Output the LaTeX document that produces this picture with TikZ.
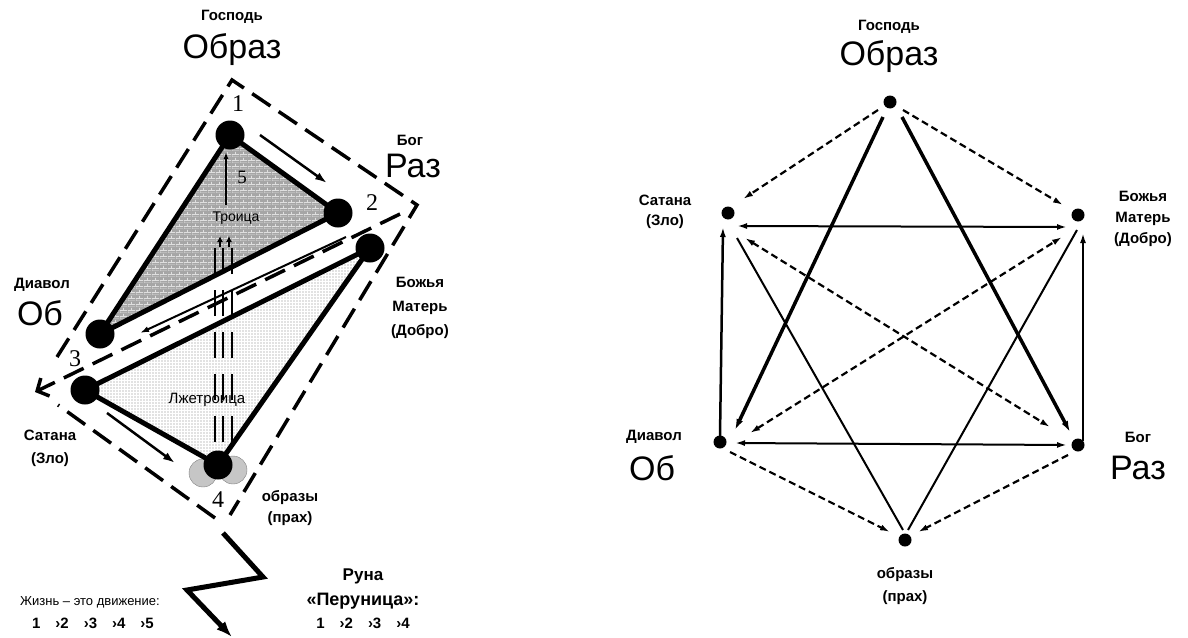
\documentclass[tikz,border=0pt]{standalone}
\usepackage{fontspec}
\setmainfont{Liberation Sans}
\newfontfamily\numfont{Liberation Serif}
\usetikzlibrary{arrows.meta,patterns}

\pgfdeclarepatternformonly{smallbricks}{\pgfpointorigin}{\pgfqpoint{8pt}{6pt}}{\pgfqpoint{8pt}{6pt}}{
  \pgfsetlinewidth{0.8pt}
  \pgfpathmoveto{\pgfqpoint{0pt}{0pt}}\pgfpathlineto{\pgfqpoint{8pt}{0pt}}
  \pgfpathmoveto{\pgfqpoint{0pt}{3pt}}\pgfpathlineto{\pgfqpoint{8pt}{3pt}}
  \pgfpathmoveto{\pgfqpoint{0pt}{0pt}}\pgfpathlineto{\pgfqpoint{0pt}{3pt}}
  \pgfpathmoveto{\pgfqpoint{4pt}{3pt}}\pgfpathlineto{\pgfqpoint{4pt}{6pt}}
  \pgfusepath{stroke}}
\pgfdeclarepatternformonly{finedots}{\pgfqpoint{-1pt}{-1pt}}{\pgfqpoint{1pt}{1pt}}{\pgfqpoint{3pt}{3pt}}{
  \pgfpathcircle{\pgfpointorigin}{0.65pt}
  \pgfusepath{fill}}

\begin{document}
\begin{tikzpicture}[x=1pt, y=-1pt,
    lbl/.style={font=\bfseries\fontsize{15}{21}\selectfont, align=center, inner sep=0pt},
    big/.style={font=\fontsize{34}{36}\selectfont, inner sep=0pt},
    num/.style={font=\numfont\fontsize{24}{26}\selectfont, inner sep=0pt},
    bigdot/.style={circle, fill=black, minimum size=29pt, inner sep=0pt},
    dot/.style={circle, fill=black, minimum size=13pt, inner sep=0pt},
    side/.style={line width=5pt, line join=round},
    outl/.style={line width=3.5pt, dash pattern=on 22pt off 10pt},
    mv/.style={line width=2.5pt, -{Latex[length=12pt,width=8pt]}},
    trip/.style={line width=2pt, dash pattern=on 26pt off 16pt},
    thk/.style={line width=3.5pt, -{Latex[length=11pt,width=7pt]}},
    thn/.style={line width=2pt},
    dsh/.style={line width=2.2pt, dash pattern=on 7pt off 4pt},
    onearr/.style={-{Latex[length=10pt,width=6pt]}},
    twoarr/.style={{Latex[length=10pt,width=6pt]}-{Latex[length=10pt,width=6pt]}},
  ]
  \useasboundingbox (0,0) rectangle (1188,637);

  \coordinate (v1) at (230,135);
  \coordinate (v2) at (338,213);
  \coordinate (v3) at (100,334);
  \coordinate (vm) at (370,248);
  \coordinate (vs) at (85,390);
  \coordinate (v4) at (218,465);

  \fill[gray!70] (v1) -- (v2) -- (v3) -- cycle;
  \fill[pattern=smallbricks, pattern color=white!75!gray] (v1) -- (v2) -- (v3) -- cycle;
  \fill[pattern=finedots, pattern color=gray] (vm) -- (vs) -- (v4) -- cycle;

  \node[font=\fontsize{14}{16}\selectfont, inner sep=0pt] (tr) at (236,218) {Троица};
  \node[font=\fontsize{15}{17}\selectfont, inner sep=0pt] (ltr) at (207,400) {Лжетроица};

  \draw[trip] (215,442) -- (215,248);
  \draw[trip] (223,442) -- (223,248);
  \draw[trip] (232,442) -- (232,248);
  \draw[line width=1.5pt, -{Latex[length=6pt,width=6pt]}] (220,247) -- (220,236);
  \draw[line width=1.5pt, -{Latex[length=6pt,width=6pt]}] (229,247) -- (229,236);
  \draw[line width=1.5pt, -{Latex[length=7pt,width=5pt]}] (226,205) -- (226,152);

  \fill[gray!45, draw=gray] (203,473) circle[radius=14pt];
  \fill[gray!45, draw=gray] (233,470) circle[radius=14pt];

  \draw[side] (v1) -- (v2) -- (v3) -- cycle;
  \draw[side] (vm) -- (vs) -- (v4) -- cycle;

  \node[bigdot] (d1) at (v1) {};
  \node[bigdot] (d2) at (v2) {};
  \node[bigdot] (d3) at (v3) {};
  \node[bigdot] (dm) at (vm) {};
  \node[bigdot] (ds) at (vs) {};
  \node[bigdot] (d4) at (v4) {};

  \draw[mv] ([shift={(30,0)}]d1.center) -- ([shift={(-11,-30)}]d2.center);
  \draw[line width=2pt, -{Latex[length=9pt,width=6pt]}] ([shift={(8,24)}]d2.center) -- ([shift={(40,-1)}]d3.center);
  \draw[mv] ([shift={(22,23)}]ds.center) -- ([shift={(-43,-2)}]d4.center);

  \draw[outl] (57,357) -- (232,80) -- (417,205) -- (230,515);
  \draw[outl] (215,518) -- (58,405);
  \draw[outl, -{Straight Barb[length=9pt,width=20pt]}] (400,214) -- (35,392);

  \draw[line width=5pt, -{Latex[length=16pt,width=12pt]}] (223,533) -- (263,577) -- (187,590) -- (232,637);

  \node[num] (l1) at (238,104) {1};
  \node[num] (l2) at (372,203) {2};
  \node[num] (l3) at (75,359) {3};
  \node[num] (l4) at (218,500) {4};
  \node[num, font=\numfont\fontsize{19}{21}\selectfont] (l5) at (242,177) {5};

  \node[lbl] (lg) at (232,17) {Господь};
  \node[big] (lob) at (232,50) {Образ};
  \node[lbl] (lb) at (410,140) {Бог};
  \node[big] (lr) at (413,166) {Раз};
  \node[lbl] (ld) at (42,285) {Диавол};
  \node[big] (lo) at (40,313) {Об};
  \node[lbl, font=\bfseries\fontsize{15}{24}\selectfont] (lm) at (420,308) {Божья\\Матерь\\(Добро)};
  \node[lbl, font=\bfseries\fontsize{15}{23}\selectfont] (ls) at (50,448) {Сатана\\(Зло)};
  \node[lbl] (lp) at (290,508) {образы\\(прах)};

  \node[font=\fontsize{13}{15}\selectfont, inner sep=0pt] (life) at (90,602) {Жизнь – это движение:};
  \node[lbl, font=\bfseries\fontsize{15}{17}\selectfont] (seq5) at (93,623) {1\quad›2\quad›3\quad›4\quad›5};
  \node[lbl, font=\bfseries\fontsize{17}{19}\selectfont] (runa) at (363,576) {Руна};
  \node[lbl, font=\bfseries\fontsize{18}{20}\selectfont] (per) at (363,601) {«Перуница»:};
  \node[lbl, font=\bfseries\fontsize{15}{17}\selectfont] (seq4) at (363,623) {1\quad›2\quad›3\quad›4};

  \node[dot] (o) at (890,102) {};
  \node[dot] (z) at (728,213) {};
  \node[dot] (d) at (1078,215) {};
  \node[dot] (b) at (720,442) {};
  \node[dot] (r) at (1078,445) {};
  \node[dot] (p) at (905,540) {};

  \draw[dsh, onearr] ([shift={(-12,8)}]o.center) -- ([shift={(15,-14)}]z.center);
  \draw[dsh, onearr] ([shift={(13,8)}]o.center) -- ([shift={(-15,-10)}]d.center);
  \draw[thn, twoarr] ([shift={(9,13)}]z.center) -- ([shift={(-11,12)}]d.center);
  \draw[thn, twoarr] ([shift={(15,1)}]b.center) -- ([shift={(-11,0)}]r.center);
  \draw[dsh, onearr] ([shift={(10,10)}]b.center) -- ([shift={(-15,-8)}]p.center);
  \draw[dsh, onearr] ([shift={(-10,10)}]r.center) -- ([shift={(13,-8)}]p.center);
  \draw[line width=2.5pt, onearr] ([shift={(0,-6)}]b.center) -- ([shift={(-5,14)}]z.center);
  \draw[line width=2.5pt, onearr] ([shift={(5,-4)}]r.center) -- ([shift={(5,18)}]d.center);
  \draw[thk] ([shift={(-7,15)}]o.center) -- ([shift={(15,-12)}]b.center);
  \draw[thk] ([shift={(12,15)}]o.center) -- ([shift={(-8,-13)}]r.center);
  \draw[dsh, twoarr] ([shift={(17,25)}]z.center) -- ([shift={(-28,-18)}]r.center);
  \draw[dsh, twoarr] ([shift={(30,-9)}]b.center) -- ([shift={(-16,22)}]d.center);
  \draw[thn] ([shift={(9,25)}]z.center) -- ([shift={(-2,-10)}]p.center);
  \draw[thn] ([shift={(-1,15)}]d.center) -- ([shift={(3,-10)}]p.center);

  \node[lbl] (rg) at (889,27) {Господь};
  \node[big] (rob) at (889,57) {Образ};
  \node[lbl, font=\bfseries\fontsize{15}{20}\selectfont] (rs) at (665,212) {Сатана\\(Зло)};
  \node[lbl] (rm) at (1143,219) {Божья\\Матерь\\(Добро)};
  \node[lbl] (rd) at (654,437) {Диавол};
  \node[big] (ro) at (652,468) {Об};
  \node[lbl] (rb) at (1138,437) {Бог};
  \node[big] (rr) at (1138,468) {Раз};
  \node[lbl, font=\bfseries\fontsize{15}{23}\selectfont] (rp) at (905,586) {образы\\(прах)};
\end{tikzpicture}
\end{document}
